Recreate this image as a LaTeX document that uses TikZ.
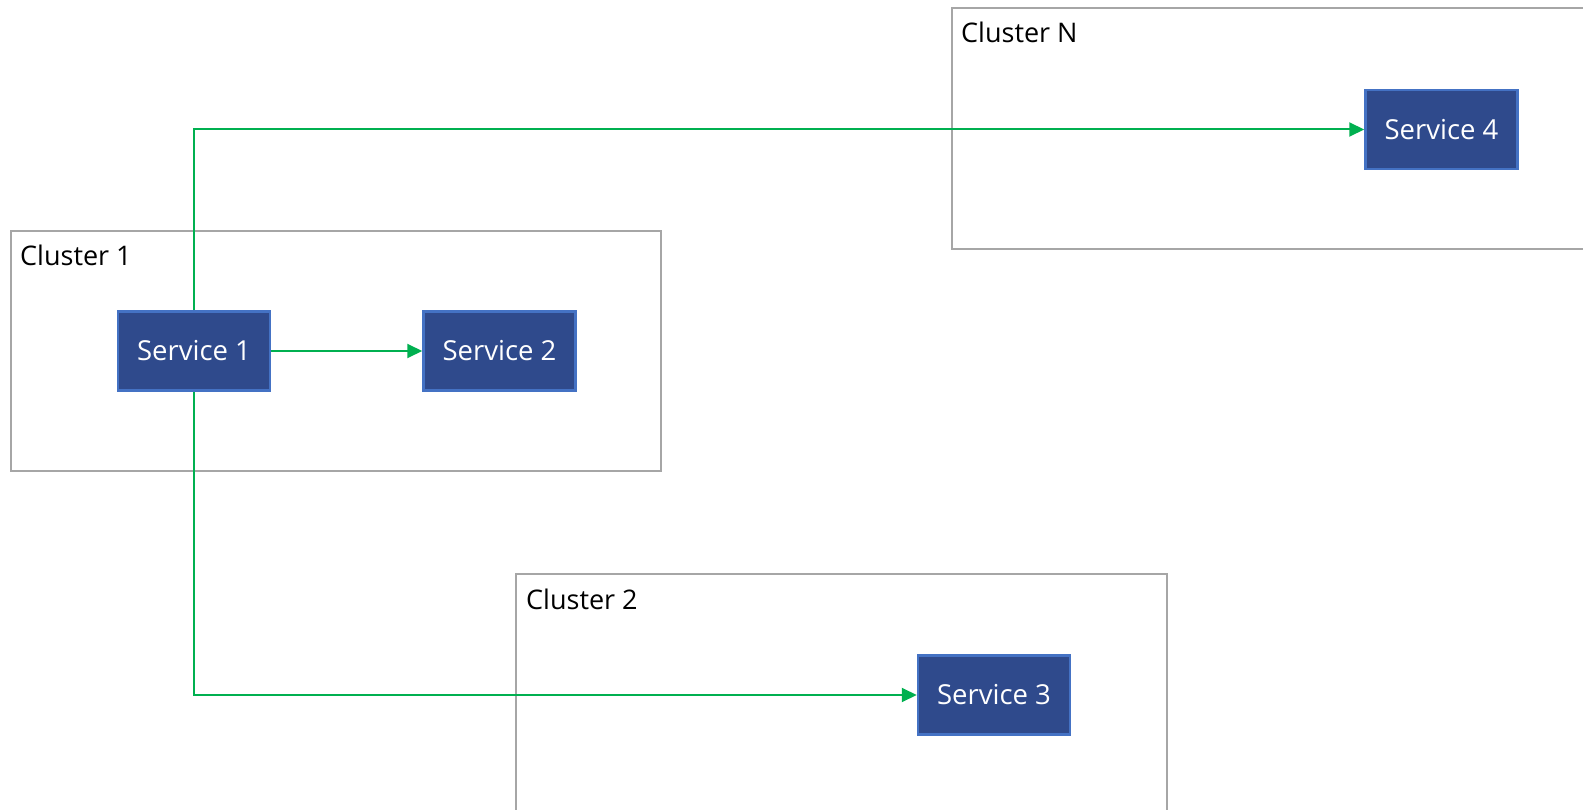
\documentclass[tikz,border=0pt]{standalone}
\usepackage{fontspec}
\setmainfont{Open Sans}
\usetikzlibrary{arrows.meta}
\definecolor{svcfill}{HTML}{2F4A8C}
\definecolor{svcline}{HTML}{4472C4}
\definecolor{linkgreen}{HTML}{00B050}
\definecolor{clustergray}{HTML}{A6A6A6}
\begin{document}
\begin{tikzpicture}[x=1pt,y=-1pt,
  cluster/.style={draw=clustergray, line width=2pt, rectangle, inner sep=0pt},
  clusterlabel/.style={anchor=base west, inner sep=0pt, font=\fontsize{27}{32}\selectfont, text=black},
  service/.style={draw=svcline, fill=svcfill, line width=2.5pt, rectangle, inner sep=0pt,
    minimum width=152pt, minimum height=79pt, text=white, font=\fontsize{27.5}{32}\selectfont},
  link/.style={draw=linkgreen, line width=2pt, -{Triangle[length=15pt,width=14pt]}}]
\useasboundingbox (0,0) rectangle (1583,810);
\clip (0,0) rectangle (1583,810);
\fill[white] (0,0) rectangle (1583,810);

% cluster frames (N and 2 run past the page edge)
\node[cluster, minimum width=650pt, minimum height=240pt] (c1) at (336,351) {};
\node[cluster, minimum width=698pt, minimum height=241pt] (cn) at (1301,129) {};
\node[cluster, minimum width=651pt, minimum height=306pt] (c2) at (841.5,727) {};

\node[clusterlabel] (c1l) at ([shift={(10,36)}]c1.north west) {Cluster 1};
\node[clusterlabel] (cnl) at ([shift={(10,35)}]cn.north west) {Cluster N};
\node[clusterlabel] (c2l) at ([shift={(11,36)}]c2.north west) {Cluster 2};

% services
\node[service] (s1) at (194,351) {Service 1};
\node[service] (s2) at (499.5,351) {Service 2};
\node[service] (s3) at (994,695) {Service 3};
\node[service] (s4) at (1441.5,129.5) {Service 4};

% calls between services
\draw[link] (s1.east) -- (s2.west);
\draw[link] (s1.north) |- (s4.west);
\draw[link] (s1.south) |- (s3.west);
\end{tikzpicture}
\end{document}
